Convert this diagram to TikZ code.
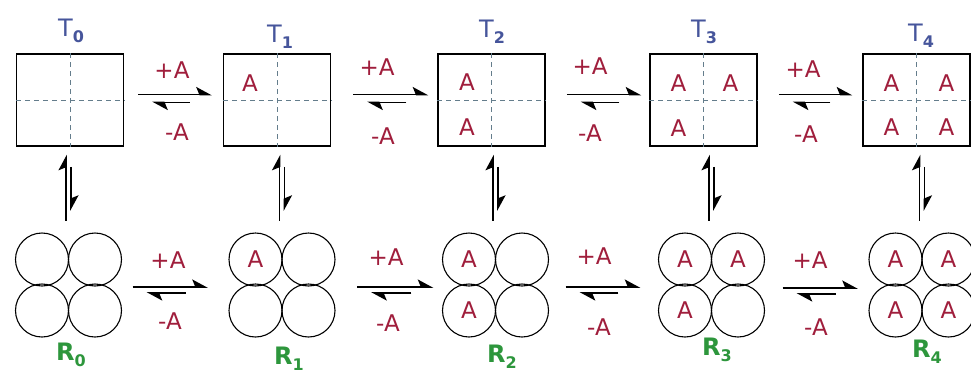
\documentclass[tikz,border=0pt]{standalone}
\usepackage{fontspec}
\setmainfont{DejaVu Sans}
\usetikzlibrary{arrows.meta}
\definecolor{tblue}{RGB}{70,85,155}
\definecolor{ared}{RGB}{160,30,60}
\definecolor{rgreen}{RGB}{45,150,60}
\definecolor{dashc}{RGB}{100,125,140}
\newcommand\subx[1]{\raisebox{-6.5pt}{\fontsize{16}{16}\selectfont\bfseries #1}}
% horizontal equilibrium pair: #1 from, #2 to, #3 shorten start, #4 shorten end, #5 upper yshift, #6 lower yshift
\newcommand\eqh[6]{%
  \draw[fwd, shorten <=#3pt, shorten >=#4pt] ([yshift=#5pt]#1.east) -- ([yshift=#5pt]#2.west);
  \draw[fwd, shorten <={(#4+22)*1pt}, shorten >={(#3+14)*1pt}] ([yshift=#6pt]#2.west) -- ([yshift=#6pt]#1.east);}
% vertical equilibrium pair: #1 top node, #2 bottom node
\newcommand\eqv[2]{%
  \draw[fwd, shorten <=20pt, shorten >=22pt] ([xshift=2.5pt]#2.north |- #1.south) -- ([xshift=2.5pt]#2.north);
  \draw[fwd, shorten <=12pt, shorten >=8pt] ([xshift=-2.5pt]#2.north) -- ([xshift=-2.5pt]#2.north |- #1.south);}
\begin{document}
\begin{tikzpicture}[x=1pt,y=-1pt,
  box/.style={draw, line width=1.5pt, minimum width=107pt, minimum height=92pt, inner sep=0},
  grp/.style={minimum width=106pt, minimum height=104pt, inner sep=0},
  ring/.style={draw, circle, line width=1.1pt, minimum size=53pt, inner sep=0, font=\fontsize{23}{23}\selectfont, text=ared},
  alab/.style={font=\fontsize{23}{23}\selectfont, text=ared, inner sep=0},
  tlab/.style={font=\fontsize{24}{24}\selectfont, text=tblue, inner sep=0, anchor=base},
  rlab/.style={font=\fontsize{24}{24}\selectfont\bfseries, text=rgreen, inner sep=0, anchor=base},
  dsh/.style={draw=dashc, line width=1pt, dash pattern=on 5pt off 4pt},
  fwd/.style={line width=1.6pt, -{Stealth[left,length=14pt,width=15pt,inset=3pt]}}
]
\useasboundingbox (0,0) rectangle (971,373);
% boxes
\node[box] (T0) at (70,100) {};
\node[box] (T1) at (277,100) {};
\node[box] (T2) at (491.5,100) {};
\node[box] (T3) at (703.5,100) {};
\node[box] (T4) at (916.5,100) {};
\foreach \t in {T0,T1,T2,T3,T4}{
  \draw[dsh] (\t.north) -- (\t.south);
  \draw[dsh] (\t.west) -- (\t.east);
}
\node[alab] (T1a) at ([shift={(-27,-17)}]T1.center) {A};
\node[alab] (T2a) at ([shift={(-24.5,-17.5)}]T2.center) {A};
\node[alab] (T2c) at ([shift={(-24.5,27.5)}]T2.center) {A};
\node[alab] (T3a) at ([shift={(-25,-17)}]T3.center) {A};
\node[alab] (T3b) at ([shift={(27,-17)}]T3.center) {A};
\node[alab] (T3c) at ([shift={(-25,28)}]T3.center) {A};
\node[alab] (T4a) at ([shift={(-25,-17)}]T4.center) {A};
\node[alab] (T4b) at ([shift={(30,-17)}]T4.center) {A};
\node[alab] (T4c) at ([shift={(-25,27.5)}]T4.center) {A};
\node[alab] (T4d) at ([shift={(30,27.5)}]T4.center) {A};
% T labels
\node[tlab] (L0) at (71,36) {T\subx{0}};
\node[tlab] (L1) at (280,42) {T\subx{1}};
\node[tlab] (L2) at (492,37) {T\subx{2}};
\node[tlab] (L3) at (704,37) {T\subx{3}};
\node[tlab] (L4) at (921,41) {T\subx{4}};
% ring groups
\node[grp] (R0) at (68.5,285) {};
\node[grp] (R1) at (282,285) {};
\node[grp] (R2) at (495.5,285) {};
\node[grp] (R3) at (711.5,285) {};
\node[grp] (R4) at (922,285) {};
\foreach \r/\qa/\qb/\qc/\qd in {R0/{}/{}/{}/{}, R1/A/{}/{}/{}, R2/A/{}/A/{}, R3/A/A/A/{}, R4/A/A/A/A}{
  \node[ring] (\r a) at ([shift={(-26.5,-25.5)}]\r.center) {\qa};
  \node[ring] (\r b) at ([shift={(26.5,-25.5)}]\r.center) {\qb};
  \node[ring] (\r c) at ([shift={(-26.5,25.5)}]\r.center) {\qc};
  \node[ring] (\r d) at ([shift={(26.5,25.5)}]\r.center) {\qd};
}
% R labels
\node[rlab] (S0) at (71,360) {R\subx{0}};
\node[rlab] (S1) at (289,364) {R\subx{1}};
\node[rlab] (S2) at (502,362) {R\subx{2}};
\node[rlab] (S3) at (717,355) {R\subx{3}};
\node[rlab] (S4) at (927,357) {R\subx{4}};
% top row arrows
\eqh{T0}{T1}{14}{11}{5.5}{-2.5}
\eqh{T1}{T2}{22}{9}{5.5}{-2.5}
\eqh{T2}{T3}{21}{8}{5.5}{-2.5}
\eqh{T3}{T4}{21}{10}{5.5}{-2.5}
% bottom row arrows
\eqh{R0}{R1}{11}{21}{-2}{-8}
\eqh{R1}{R2}{22}{9}{-2}{-8}
\eqh{R2}{R3}{17}{18}{-2}{-8}
\eqh{R3}{R4}{18}{11}{-3}{-9}
% vertical arrows
\eqv{T0}{R0}
\eqv{T1}{R1}
\eqv{T2}{R2}
\eqv{T3}{R3}
\eqv{T4}{R4}
% +A / -A labels
\node[alab] (p01) at (172,70) {+A};
\node[alab] (m01) at (177,132) {-A};
\node[alab] (p12) at (377,67) {+A};
\node[alab] (m12) at (383,136) {-A};
\node[alab] (p23) at (590,66) {+A};
\node[alab] (m23) at (590,133) {-A};
\node[alab] (p34) at (803,69) {+A};
\node[alab] (m34) at (806,134) {-A};
\node[alab] (q01) at (168,260) {+A};
\node[alab] (n01) at (170,321) {-A};
\node[alab] (q12) at (386,257) {+A};
\node[alab] (n12) at (388,323) {-A};
\node[alab] (q23) at (594,256) {+A};
\node[alab] (n23) at (599,327) {-A};
\node[alab] (q34) at (810,260) {+A};
\node[alab] (n34) at (816,327) {-A};
\end{tikzpicture}
\end{document}
